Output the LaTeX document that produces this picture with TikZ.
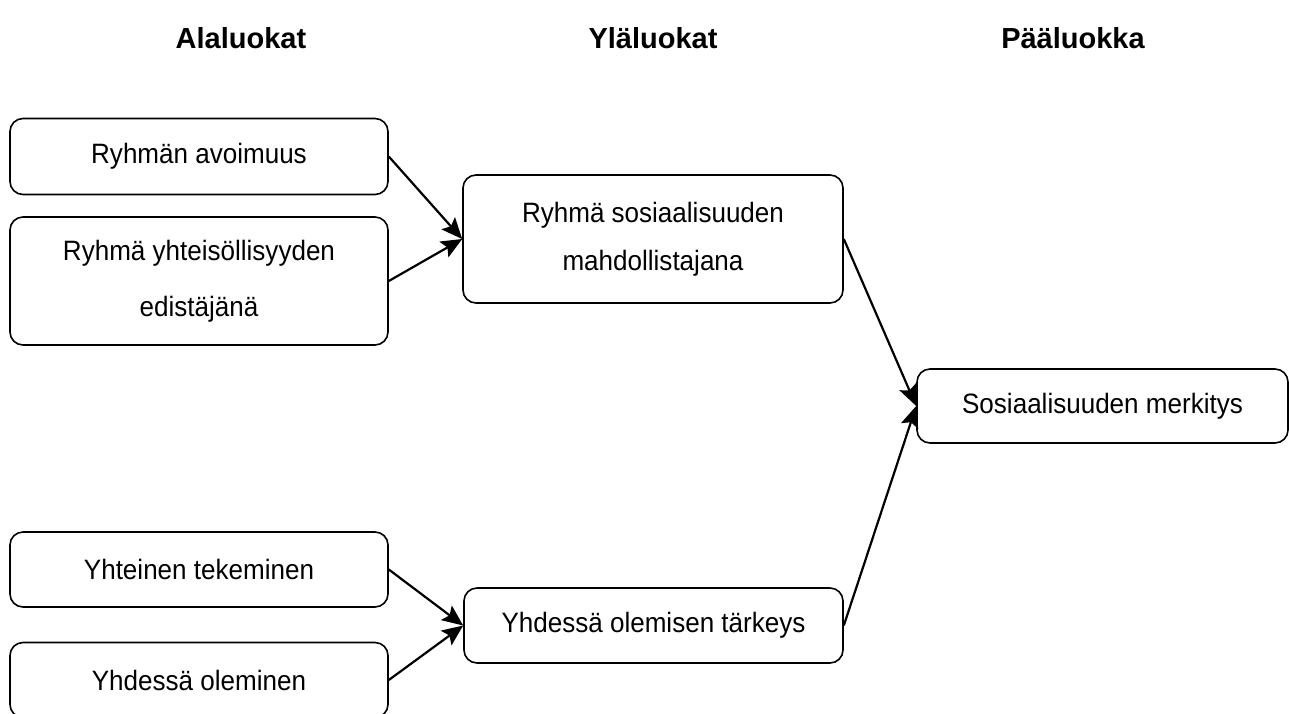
\documentclass[tikz,border=0pt]{standalone}
\usepackage{fontspec}
\setmainfont{Liberation Sans}
\newfontfamily\bodyfont[FakeStretch=0.93]{Liberation Sans}
\usetikzlibrary{arrows.meta}
\begin{document}
\begin{tikzpicture}[x=1pt,y=-1pt,
  catbox/.style={draw=black, line width=1.6pt, rounded corners=13pt, fill=white,
    inner sep=0pt, align=center, font=\bodyfont\fontsize{28}{52}\selectfont},
  heading/.style={font=\bfseries\fontsize{29}{34}\selectfont},
  link/.style={line width=2.2pt, -{Stealth[length=21pt,width=18pt,inset=4pt]}}]
\useasboundingbox (0,0) rectangle (1289,713);
\clip (0,0) rectangle (1289,713);

% column headings
\node[heading] (h1) at (241,38) {Alaluokat};
\node[heading] (h2) at (653,38) {Yläluokat};
\node[heading] (h3) at (1073,38) {Pääluokka};

% sub-categories
\node[catbox, minimum width=378pt, minimum height=76pt] (a1) at (199,156.5) {Ryhmän avoimuus};
\node[catbox, minimum width=378pt, minimum height=128pt, font=\bodyfont\fontsize{28}{56}\selectfont] (a2) at (199,281) {Ryhmä yhteisöllisyyden\\edistäjänä};
\node[catbox, minimum width=378pt, minimum height=75pt] (a3) at (199,569.5) {Yhteinen tekeminen};
\node[catbox, minimum width=378pt, minimum height=75pt] (a4) at (199,680) {Yhdessä oleminen};

% upper categories
\node[catbox, minimum width=380pt, minimum height=128pt, font=\bodyfont\fontsize{28}{48}\selectfont] (b1) at (653,239) {Ryhmä sosiaalisuuden\\mahdollistajana};
\node[catbox, minimum width=379pt, minimum height=75pt] (b2) at (653.5,625.5) {Yhdessä olemisen tärkeys};

% main category
\node[catbox, minimum width=371pt, minimum height=74pt] (c) at (1102.5,406) {Sosiaalisuuden merkitys};

% connectors
\draw[link] (a1.east) -- (b1.west);
\draw[link] (a2.east) -- (b1.west);
\draw[link] (a3.east) -- (b2.west);
\draw[link] (a4.east) -- (b2.west);
\draw[link] (b1.east) -- (c.west);
\draw[link] (b2.east) -- (c.west);
\end{tikzpicture}
\end{document}
